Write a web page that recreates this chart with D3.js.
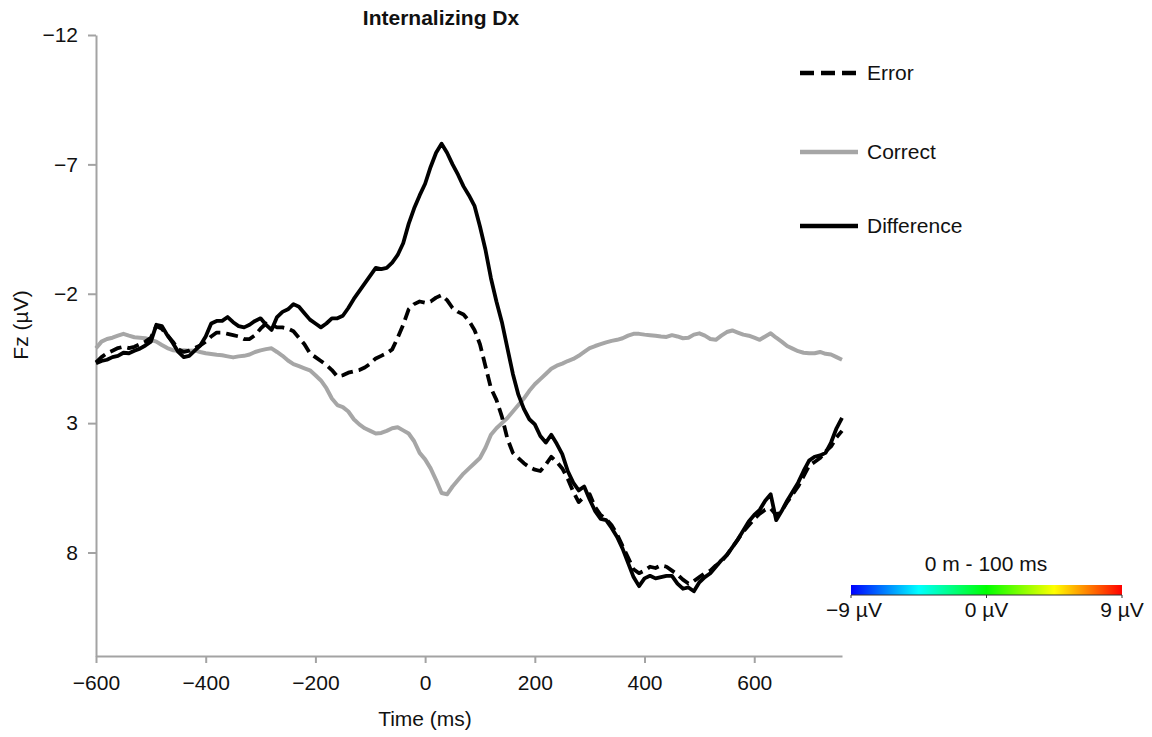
<!DOCTYPE html>
<html>
<head>
<meta charset="utf-8">
<script src="https://cdn.jsdelivr.net/npm/d3@7"></script>
<style>
  body { margin: 0; background: #fff; }
  svg text { font-family: "Liberation Sans", Arial, Helvetica, sans-serif; fill: #111; }
  .axis path, .axis line { stroke: #a3a3a3; stroke-width: 2; }
  .axis text { font-size: 21px; }
</style>
</head>
<body>
<div id="chart"></div>
<script>

// time points (ms), one sample every 10 ms
var times = d3.range(-600, 761, 10);

// Fz amplitude (µV)
var errorValues = [
    0.65, 0.45, 0.30, 0.20, 0.10, 0.05, 0.10, 0.05, -0.05, -0.15,
    -0.30, -0.75, -0.65, -0.40, -0.15, 0.15, 0.25, 0.20, 0.10, 0.00,
    -0.15, -0.35, -0.50, -0.50, -0.45, -0.40, -0.35, -0.25, -0.25, -0.40,
    -0.65, -0.85, -0.80, -0.70, -0.70, -0.65, -0.55, -0.30, -0.05, 0.30,
    0.45, 0.60, 0.75, 0.95, 1.20, 1.15, 1.05, 1.00, 0.95, 0.85,
    0.70, 0.50, 0.40, 0.30, 0.15, -0.30, -0.80, -1.40, -1.60, -1.70,
    -1.65, -1.70, -1.85, -1.95, -1.75, -1.45, -1.30, -1.20, -0.95, -0.60,
    -0.05, 0.80, 1.65, 2.10, 2.75, 3.60, 4.15, 4.35, 4.55, 4.70,
    4.80, 4.85, 4.60, 4.30, 4.50, 4.75, 5.15, 5.65, 6.05, 5.85,
    5.75, 6.25, 6.55, 6.70, 6.95, 7.30, 7.75, 8.20, 8.65, 8.80,
    8.70, 8.55, 8.60, 8.50, 8.55, 8.70, 8.85, 9.05, 9.20, 9.10,
    8.95, 8.80, 8.70, 8.50, 8.35, 8.10, 7.80, 7.50, 7.20, 6.95,
    6.70, 6.50, 6.35, 6.30, 6.55, 6.40, 6.05, 5.75, 5.45, 5.05,
    4.65, 4.50, 4.35, 4.10, 3.90, 3.55, 3.30
];

var correctValues = [
    0.11, -0.15, -0.25, -0.30, -0.38, -0.45, -0.38, -0.32, -0.30, -0.28,
    -0.22, -0.15, -0.02, 0.10, 0.18, 0.20, 0.18, 0.20, 0.19, 0.25,
    0.30, 0.33, 0.36, 0.38, 0.42, 0.46, 0.42, 0.40, 0.35, 0.25,
    0.19, 0.14, 0.11, 0.25, 0.40, 0.58, 0.72, 0.80, 0.88, 0.96,
    1.15, 1.35, 1.65, 2.05, 2.30, 2.38, 2.55, 2.85, 3.05, 3.20,
    3.30, 3.40, 3.38, 3.30, 3.20, 3.16, 3.28, 3.40, 3.70, 4.15,
    4.40, 4.75, 5.20, 5.70, 5.75, 5.45, 5.20, 4.95, 4.75, 4.55,
    4.35, 3.95, 3.45, 3.20, 3.00, 2.80, 2.55, 2.30, 2.05, 1.75,
    1.50, 1.30, 1.10, 0.90, 0.78, 0.70, 0.60, 0.52, 0.40, 0.25,
    0.10, 0.02, -0.05, -0.12, -0.18, -0.22, -0.28, -0.38, -0.45, -0.45,
    -0.42, -0.40, -0.38, -0.35, -0.33, -0.40, -0.35, -0.28, -0.30, -0.42,
    -0.47, -0.38, -0.25, -0.22, -0.38, -0.52, -0.58, -0.50, -0.42, -0.38,
    -0.30, -0.22, -0.35, -0.47, -0.30, -0.15, 0.02, 0.12, 0.22, 0.28,
    0.30, 0.30, 0.25, 0.32, 0.35, 0.45, 0.55
];

var differenceValues = [
    0.69, 0.60, 0.55, 0.45, 0.40, 0.28, 0.30, 0.20, 0.12, 0.00,
    -0.15, -0.80, -0.75, -0.40, -0.10, 0.25, 0.45, 0.40, 0.20, 0.00,
    -0.35, -0.85, -0.95, -0.95, -1.10, -0.90, -0.75, -0.70, -0.80, -0.95,
    -1.05, -0.80, -0.60, -1.10, -1.30, -1.40, -1.60, -1.50, -1.25, -1.00,
    -0.85, -0.70, -0.85, -1.05, -1.05, -1.15, -1.45, -1.80, -2.10, -2.40,
    -2.70, -3.00, -2.95, -3.00, -3.20, -3.50, -3.95, -4.70, -5.30, -5.80,
    -6.25, -6.90, -7.45, -7.80, -7.45, -7.00, -6.60, -6.15, -5.80, -5.40,
    -4.60, -3.70, -2.60, -1.70, -0.90, 0.10, 1.10, 1.90, 2.45, 2.85,
    3.05, 3.50, 3.75, 3.45, 3.80, 4.20, 4.85, 5.30, 5.60, 5.45,
    5.95, 6.40, 6.70, 6.75, 7.05, 7.40, 7.85, 8.40, 8.95, 9.30,
    9.00, 8.90, 9.00, 8.95, 8.90, 8.90, 9.20, 9.40, 9.35, 9.50,
    9.15, 8.95, 8.80, 8.55, 8.30, 8.10, 7.80, 7.50, 7.15, 6.80,
    6.55, 6.35, 6.00, 5.75, 6.75, 6.40, 6.00, 5.65, 5.30, 4.85,
    4.45, 4.30, 4.25, 4.15, 3.75, 3.20, 2.80
];

var xTicks = [-600, -400, -200, 0, 200, 400, 600];
var yTicks = [-12, -7, -2, 3, 8];

var seriesNames = ["Error", "Correct", "Difference"];

// colour bar: jet-like map from -9 to 9 µV
var barColors = ["#0000ff", "#00ffff", "#00ff00", "#ffff00", "#ff0000"];
var barTicks = [-9, 0, 9];

var width = 1152, height = 737;

var svg = d3.select("#chart").append("svg")
    .attr("width", width)
    .attr("height", height);

var x = d3.scaleLinear().domain([-600, 760]).range([96, 842]);
var y = d3.scaleLinear().domain([-12, 12]).range([35, 656]);

var styles = {
    Error: { stroke: "#000", width: 3.8, dash: "12,6" },
    Correct: { stroke: "#a6a6a6", width: 4, dash: null },
    Difference: { stroke: "#000", width: 3.8, dash: null }
};

// axes
svg.append("g")
    .attr("class", "axis")
    .attr("transform", "translate(96,0)")
    .call(d3.axisLeft(y).tickValues(yTicks).tickSize(8).tickSizeOuter(0).tickPadding(10))
    .selectAll("text").attr("fill", "#111");

svg.append("g")
    .attr("class", "axis")
    .attr("transform", "translate(0,656)")
    .call(d3.axisBottom(x).tickValues(xTicks).tickSize(7).tickSizeOuter(0).tickPadding(12))
    .selectAll("text").attr("fill", "#111");

// axis labels and title
svg.append("text")
    .attr("x", 441).attr("y", 25)
    .attr("text-anchor", "middle")
    .style("font-size", "21px").style("font-weight", "bold")
    .text("Internalizing Dx");

svg.append("text")
    .attr("transform", "translate(28,325) rotate(-90)")
    .attr("text-anchor", "middle")
    .style("font-size", "21px")
    .text("Fz (µV)");

svg.append("text")
    .attr("x", 425).attr("y", 726)
    .attr("text-anchor", "middle")
    .style("font-size", "21px")
    .text("Time (ms)");

// lines
var line = d3.line()
    .x(function(d) { return x(d.t); })
    .y(function(d) { return y(d.v); });

function toPoints(values) {
    return values.map(function(v, i) { return { t: times[i], v: v }; });
}

var seriesData = {
    Error: toPoints(errorValues),
    Correct: toPoints(correctValues),
    Difference: toPoints(differenceValues)
};

["Correct", "Difference", "Error"].forEach(function(name) {
    var s = styles[name];
    svg.append("path")
        .datum(seriesData[name])
        .attr("fill", "none")
        .attr("stroke", s.stroke)
        .attr("stroke-width", s.width)
        .attr("stroke-linejoin", "round")
        .attr("stroke-dasharray", s.dash)
        .attr("d", line);
});

// legend
var legendY = [73, 152, 226];
seriesNames.forEach(function(name, i) {
    var s = styles[name];
    svg.append("line")
        .attr("x1", 800).attr("x2", 858)
        .attr("y1", legendY[i]).attr("y2", legendY[i])
        .attr("stroke", s.stroke)
        .attr("stroke-width", 4.5)
        .attr("stroke-dasharray", s.dash ? "14,7" : null);
    svg.append("text")
        .attr("x", 867).attr("y", legendY[i] + 7)
        .style("font-size", "21px")
        .text(name);
});

// colour bar
var cb = d3.scaleLinear().domain([-9, 9]).range([851, 1122]);

var grad = svg.append("defs").append("linearGradient")
    .attr("id", "jet")
    .attr("x1", "0%").attr("x2", "100%");
barColors.forEach(function(c, i) {
    grad.append("stop")
        .attr("offset", (i / (barColors.length - 1) * 100) + "%")
        .attr("stop-color", c);
});

svg.append("rect")
    .attr("x", cb(-9)).attr("y", 585)
    .attr("width", cb(9) - cb(-9)).attr("height", 10)
    .attr("fill", "url(#jet)");

svg.append("line")
    .attr("x1", cb(-9)).attr("x2", cb(9))
    .attr("y1", 595).attr("y2", 595)
    .attr("stroke", "#333").attr("stroke-width", 1);

svg.selectAll(".cbtick")
    .data(barTicks)
    .enter().append("line")
    .attr("x1", d => cb(d)).attr("x2", d => cb(d))
    .attr("y1", 595).attr("y2", 598)
    .attr("stroke", "#333");

svg.selectAll(".cblabel")
    .data(barTicks)
    .enter().append("text")
    .attr("x", d => cb(d) + (d === 9 ? 0 : d === -9 ? 3 : 0))
    .attr("y", 617)
    .attr("text-anchor", "middle")
    .style("font-size", "21px")
    .text(d => d3.format("d")(d) + " µV");

svg.append("text")
    .attr("x", 986).attr("y", 571)
    .attr("text-anchor", "middle")
    .style("font-size", "21px")
    .text("0 m - 100 ms");

</script>
</body>
</html>
